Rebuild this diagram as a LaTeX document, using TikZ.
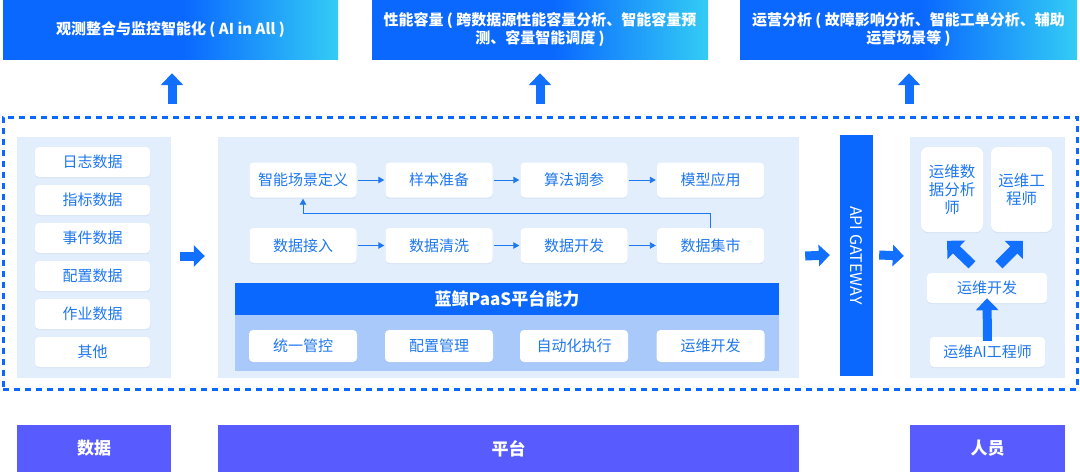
\documentclass[tikz,border=0pt]{standalone}
\usepackage{fontspec}
\setmainfont{Noto Sans CJK SC}
\usetikzlibrary{arrows.meta,shadows}
\definecolor{mainblue}{HTML}{0A68FF}
\definecolor{gcyan}{HTML}{33CCF5}
\definecolor{panelbg}{HTML}{E3EEFC}
\definecolor{paaslow}{HTML}{A9C9FB}
\definecolor{txtblue}{HTML}{1E78F0}
\definecolor{arrblue}{HTML}{1170FF}
\definecolor{botblue}{HTML}{585CFF}
\definecolor{shadowc}{HTML}{9DB5DA}
\pgfdeclarehorizontalshading{topgrad}{100bp}{color(0bp)=(mainblue); color(52bp)=(mainblue); color(75bp)=(gcyan); color(100bp)=(gcyan)}
\begin{document}
\begin{tikzpicture}[x=1pt,y=-1pt,
  topbox/.style={shade, shading=topgrad, text=white, font=\bfseries\fontsize{15}{18}\selectfont, align=center, inner sep=0pt, minimum height=59pt},
  panel/.style={fill=panelbg, inner sep=0pt, minimum height=241pt},
  wbox/.style={fill=white, rounded corners=4pt, text=txtblue, font=\fontsize{15}{18}\selectfont, inner sep=0pt, align=center,
     drop shadow={shadow xshift=0pt, shadow yshift=-1.2pt, opacity=0.2, fill=shadowc}},
  flow/.style={draw=txtblue, line width=0.9pt, -{Triangle[width=6.5pt,length=6pt]}},
  bigup/.style={draw=arrblue, line width=9pt, -{Triangle[width=22pt,length=12pt]}},
  bigr/.style={draw=arrblue, line width=9pt, -{Triangle[width=21pt,length=11pt]}},
  bigd/.style={draw=arrblue, line width=10pt, -{Triangle[width=25pt,length=13pt]}},
  botbox/.style={fill=botblue, text=white, font=\bfseries\fontsize{17}{20}\selectfont, inner sep=0pt, minimum height=47pt},
  dashframe/.style={draw=mainblue, line width=3pt, dash pattern=on 6pt off 5pt, inner sep=0pt},
]
\useasboundingbox (0,0) rectangle (1080,472);
\fill[white] (0,0) rectangle (1080,472);

% top result boxes
\node[topbox, minimum width=335pt] (t1) at (170.5,29.5) {观测整合与监控智能化 ( AI in All )};
\node[topbox, minimum width=336pt] (t2) at (540,29.5) {性能容量 ( 跨数据源性能容量分析、智能容量预\\测、容量智能调度 )};
\node[topbox, minimum width=337pt] (t3) at (908.5,29.5) {运营分析 ( 故障影响分析、智能工单分析、辅助\\运营场景等 )};

% dashed frame
\node[dashframe, minimum width=1074pt, minimum height=272pt] (frame) at (540,253) {};

\draw[bigup] ([xshift=1.5pt,yshift=-45pt]t1.south) -- ([xshift=1.5pt,yshift=-14pt]t1.south);
\draw[bigup] ([yshift=-45pt]t2.south) -- ([yshift=-14pt]t2.south);
\draw[bigup] ([xshift=0.5pt,yshift=-45pt]t3.south) -- ([xshift=0.5pt,yshift=-14pt]t3.south);

% panels
\node[panel, minimum width=154pt] (dp) at (94,257.5) {};
\node[panel, minimum width=581pt] (pp) at (508.5,257.5) {};
\node[panel, minimum width=155pt] (hp) at (987.5,257.5) {};

% data items
\foreach \n/\y/\t in {d1/162/日志数据, d2/200/指标数据, d3/238/事件数据, d4/276/配置数据, d5/314/作业数据, d6/352/其他}{
  \node[wbox, minimum width=115pt, minimum height=30pt] (\n) at (92.5,\y) {\t};
}

% platform flow boxes
\node[wbox, minimum width=107pt, minimum height=35pt] (s1) at (303,180) {智能场景定义};
\node[wbox, minimum width=107pt, minimum height=35pt] (s2) at (439,180) {样本准备};
\node[wbox, minimum width=107pt, minimum height=35pt] (s3) at (574,180) {算法调参};
\node[wbox, minimum width=107pt, minimum height=35pt] (s4) at (710.5,180) {模型应用};
\node[wbox, minimum width=107pt, minimum height=35pt] (r1) at (303,245.5) {数据接入};
\node[wbox, minimum width=107pt, minimum height=35pt] (r2) at (439,245.5) {数据清洗};
\node[wbox, minimum width=107pt, minimum height=35pt] (r3) at (574,245.5) {数据开发};
\node[wbox, minimum width=107pt, minimum height=35pt] (r4) at (710.5,245.5) {数据集市};

\draw[flow] ([xshift=1pt]s1.east) -- ([xshift=-1pt]s2.west);
\draw[flow] ([xshift=1pt]s2.east) -- ([xshift=-1pt]s3.west);
\draw[flow] ([xshift=1pt]s3.east) -- ([xshift=-1pt]s4.west);
\draw[flow] ([xshift=1pt]r1.east) -- ([xshift=-1pt]r2.west);
\draw[flow] ([xshift=1pt]r2.east) -- ([xshift=-1pt]r3.west);
\draw[flow] ([xshift=1pt]r3.east) -- ([xshift=-1pt]r4.west);
\draw[flow] (r4.north) -- ++(0,-14) -| ([yshift=-1pt]s1.south);

% PaaS block
\node[fill=mainblue, text=white, font=\bfseries\fontsize{17}{20}\selectfont, inner sep=0pt, minimum width=544pt, minimum height=32pt] (paas) at (507,299) {蓝鲸PaaS平台能力};
\node[fill=paaslow, inner sep=0pt, minimum width=544pt, minimum height=56pt, anchor=north] (paasl) at (paas.south) {};
\node[wbox, minimum width=108pt, minimum height=32pt] (c1) at (303,346) {统一管控};
\node[wbox, minimum width=108pt, minimum height=32pt] (c2) at (439,346) {配置管理};
\node[wbox, minimum width=108pt, minimum height=32pt] (c3) at (574,346) {自动化执行};
\node[wbox, minimum width=108pt, minimum height=32pt] (c4) at (710.5,346) {运维开发};

% API gateway
\node[fill=mainblue, inner sep=0pt, minimum width=33pt, minimum height=241pt] (gw) at (856.5,255.5) {};
\node[text=white, font=\fontsize{16}{18}\selectfont, rotate=-90, inner sep=0pt] (gwt) at (gw.center) {API GATEWAY};

% big arrows right
\draw[bigr] ([xshift=9pt,yshift=1.5pt]dp.east) -- ([xshift=-13pt,yshift=1.5pt]pp.west);
\draw[bigr] ([xshift=6pt,yshift=1.5pt]pp.east) -- ([xshift=-10pt,yshift=0.5pt]gw.west);
\draw[bigr] ([xshift=6pt,yshift=0.5pt]gw.east) -- ([xshift=-6pt,yshift=1.5pt]hp.west);

% people
\node[wbox, minimum width=62pt, minimum height=85pt, rounded corners=7pt, font=\fontsize{15.5}{18}\selectfont] (a1) at (952,189.5) {运维数\\据分析\\师};
\node[wbox, minimum width=61pt, minimum height=85pt, rounded corners=7pt, font=\fontsize{15.5}{18}\selectfont] (a2) at (1021.5,189.5) {运维工\\程师};
\node[wbox, minimum width=120pt, minimum height=30pt] (ops) at (987,288) {运维开发};
\node[wbox, minimum width=115pt, minimum height=30pt] (aie) at (987.5,352) {运维AI工程师};

\draw[bigd] ([xshift=-15pt,yshift=8pt]ops.north) -- ([xshift=-40pt,yshift=32pt]ops.north);
\draw[bigd] ([xshift=12pt,yshift=8pt]ops.north) -- ([xshift=36pt,yshift=32pt]ops.north);
\draw[bigup] ([yshift=-4pt]aie.north) -- ([yshift=5pt]ops.south);

% bottom category boxes
\node[botbox, minimum width=154pt] (b1) at (94,448.5) {数据};
\node[botbox, minimum width=581pt] (b2) at (508.5,448.5) {平台};
\node[botbox, minimum width=155pt] (b3) at (987.5,448.5) {人员};
\end{tikzpicture}
\end{document}
